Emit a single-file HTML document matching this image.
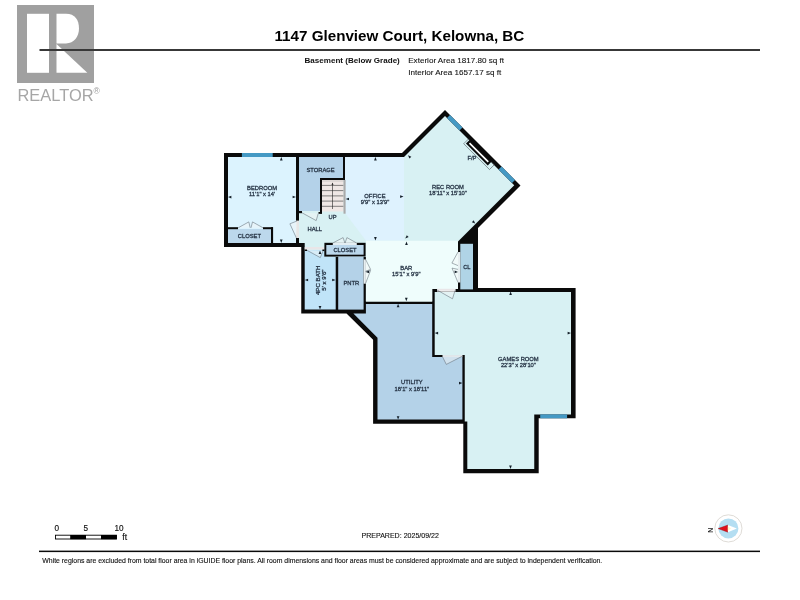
<!DOCTYPE html>
<html><head><meta charset="utf-8">
<style>
html,body{margin:0;padding:0;background:#fff;width:800px;height:600px;overflow:hidden}
svg{display:block;will-change:transform}
text{font-family:"Liberation Sans",sans-serif}
</style></head><body>
<svg width="800" height="600" viewBox="0 0 800 600">
<defs>
<path id="ar" d="M-1.35 3.4 L1.35 3.4 L0 0 Z" fill="#15202a"/>
</defs>
<!-- REALTOR logo -->
<g id="logo">
<rect x="17" y="5" width="77" height="78" fill="#a0a0a0"/>
<rect x="27" y="13.8" width="22" height="59" fill="#fff"/>
<path d="M56.5 13.8 H66 C75 13.8 79 20 79 28.5 C79 37 74 43 66 43.5 H56.5 Z" fill="#fff"/>
<path d="M56.5 44 L87.3 72.8 H56.5 Z" fill="#fff"/>
<text x="17.5" y="101" font-size="16" fill="#a6a6a6" textLength="76" lengthAdjust="spacingAndGlyphs">REALTOR</text>
<text x="93.6" y="94" font-size="8.5" fill="#9a9a9a">®</text>
</g>
<!-- header -->
<text x="399.4" y="41.4" font-size="15.2" font-weight="bold" text-anchor="middle" fill="#000">1147 Glenview Court, Kelowna, BC</text>
<rect x="39.5" y="49" width="720.5" height="2" fill="#383838"/>
<text x="399.8" y="62.9" font-size="8.05" font-weight="bold" text-anchor="end" fill="#111">Basement (Below Grade)</text>
<text x="408.2" y="62.9" font-size="8.1" fill="#111" stroke="#111" stroke-width="0.1">Exterior Area 1817.80 sq ft</text>
<text x="408.2" y="74.6" font-size="8.1" fill="#111" stroke="#111" stroke-width="0.1">Interior Area 1657.17 sq ft</text>

<!-- floor plan -->
<g id="plan">
<!-- black footprint -->
<path d="M224 153 H402 L445 110 L520.5 185.5 L478 228 V288 H575.6 V418.3 H538.7 V473.3 H463.3 V423.7 H373.1 V339.8 L346.5 313.6 H301.25 V247 H224 Z" fill="#0a0a0a"/>
<!-- bedroom -->
<rect x="228" y="157" width="68" height="86" fill="#dcf3fe"/>
<!-- storage -->
<path d="M299 157 H343 V178 H320 V211 H299 Z" fill="#b4d2e9"/>
<!-- open area base (rec room colour) -->
<path d="M345 157 H404 L445 116 L514.25 185.25 L458 241.5 V289 H432.2 V301.5 H365.9 V257 H324.4 V250 H304.7 V243 H299 V211 H320 V213.5 H322 V180 H345 Z" fill="#d8f1f3"/>
<!-- office overlay -->
<path d="M345 157 H404 V240.7 H366 L345 213 Z" fill="#def2fe"/>
<!-- bar overlay -->
<path d="M366 240.7 H458 V289 H432.2 V301.5 H365.9 Z" fill="#effdfc"/>
<!-- stairs -->
<rect x="322" y="180" width="21.5" height="31.5" fill="#efe7e5"/>
<g stroke="#5a5a5a" stroke-width="0.75"><line x1="322" y1="185.4" x2="343.5" y2="185.4"/><line x1="322" y1="190.6" x2="343.5" y2="190.6"/><line x1="322" y1="195.9" x2="343.5" y2="195.9"/><line x1="322" y1="201.1" x2="343.5" y2="201.1"/><line x1="322" y1="206.3" x2="343.5" y2="206.3"/><line x1="322" y1="181" x2="343.5" y2="181" stroke="#aaa" stroke-width="0.5"/></g>
<line x1="332.5" y1="183" x2="332.5" y2="209" stroke="#222" stroke-width="0.6"/>
<path d="M331.5 185 L332.5 182.5 L333.5 185 Z" fill="#333"/>
<rect x="343.5" y="180" width="2.1" height="33.7" fill="#aaa"/>
<rect x="299" y="211" width="3" height="2.2" fill="#0a0a0a"/><rect x="318.5" y="212" width="3.5" height="1.8" fill="#0a0a0a"/>
<!-- bath -->
<path d="M304.7 250 H324.4 V256.6 H335.7 V309.6 H304.7 Z" fill="#c0e4f8"/>
<rect x="304.7" y="249" width="2.3" height="2" fill="#0a0a0a"/>
<rect x="322.4" y="249" width="2" height="2" fill="#0a0a0a"/>
<rect x="304.7" y="247" width="19.7" height="2.5" fill="#e9e6e8"/>
<!-- hall closet -->
<rect x="324.4" y="242.8" width="41.2" height="13.8" fill="#0a0a0a"/>
<rect x="326.3" y="245" width="37.3" height="9.7" fill="#bcd8ec"/>
<rect x="332.8" y="242.8" width="24" height="2.2" fill="#e4eef2"/>
<!-- pantry -->
<rect x="338.2" y="256.6" width="25.4" height="53" fill="#b4d2e8"/>
<rect x="363.6" y="259.4" width="2.3" height="24.3" fill="#e6eef0"/>
<!-- CL -->
<rect x="460.3" y="243.8" width="12.7" height="45.6" fill="#b0d4e6"/>
<rect x="458" y="252" width="2.3" height="30.5" fill="#e6eef0"/>
<!-- games room -->
<path d="M434.7 291.9 H571 V414.4 H534.25 V469 H467.3 V421.5 H464.75 V355 H434.7 Z" fill="#d8f1f3"/>
<rect x="437" y="288.8" width="18.6" height="2.8" fill="#e9e6e8"/>
<!-- utility -->
<path d="M365.9 304.1 H432.2 V357 H462.4 V419.6 H377.5 V337.7 L353.4 313.6 H365.9 Z" fill="#b4d2e8"/>
<rect x="442.5" y="355" width="20" height="2" fill="#dfe6ea"/>
<!-- bedroom closet -->
<rect x="228" y="229" width="43" height="14" fill="#bcd8ec"/>
<rect x="228" y="227.2" width="10" height="2" fill="#0a0a0a"/>
<rect x="263" y="227.2" width="10" height="2" fill="#0a0a0a"/>
<rect x="271" y="227.2" width="2.1" height="16" fill="#0a0a0a"/>
<!-- bedroom-hall door opening -->
<rect x="296" y="220.6" width="3" height="17.4" fill="#e6e6e6"/>
<!-- windows -->
<rect x="241.9" y="153" width="30.8" height="4" fill="#4499c4"/>
<rect x="540.2" y="414.4" width="26.9" height="3.9" fill="#4499c4"/>
<path d="M450 115 L462.5 127.5 L459.5 130.5 L447 118 Z" fill="#4499c4"/>
<path d="M501.5 166.5 L515 180 L512 183 L498.5 169.5 Z" fill="#4499c4"/>
<!-- fireplace -->
<g transform="translate(469.5 140.5) rotate(45)">
<rect x="-1.8" y="-0.5" width="36.5" height="6.9" fill="none" stroke="#3a3f44" stroke-width="0.5"/>
<rect x="-0.3" y="-1.5" width="30.8" height="6.2" fill="#0a0a0a"/>
<rect x="1.8" y="1.0" width="26.6" height="1.7" fill="#fff"/>
</g>
<!-- door leaves -->
<g fill="#f4f6f6" fill-opacity="0.45" stroke="#56606a" stroke-width="0.5">
<path d="M297 221 L289.9 223.8 L296.3 237.8"/>
<path d="M302 212.8 L316.2 220.6 L318.2 213.6"/>
<path d="M307 250.3 L320.3 257.6 L323 251"/>
<path d="M333.2 242.8 L343.1 237.6 L344.9 243 M356.3 242.8 L346.9 237.6 L345.1 243"/>
<path d="M238.2 227.8 L248.8 221.9 L250.2 227.8 M263 227.8 L252.5 221.9 L251 227.8"/>
<path d="M365.6 259.4 L370.6 269.4 L365.6 271.2 M365.6 283.4 L370.6 270.4 L365.6 271.6"/>
<path d="M458 252 L451.9 263.1 L458 265.6 M458 282.5 L452 268.1 L458 269.4"/>
<path d="M437 290 L452.5 298.8 L455 290.5"/>
<path d="M442.6 357 L446.3 364.4 L462.4 356.2"/>
</g>
<use href="#ar" transform="translate(281.3 157) rotate(0)"/>
<use href="#ar" transform="translate(228 197.1) rotate(-90)"/>
<use href="#ar" transform="translate(296 197) rotate(90)"/>
<use href="#ar" transform="translate(281.25 243) rotate(180)"/>
<use href="#ar" transform="translate(375.4 157) rotate(0)"/>
<use href="#ar" transform="translate(345.6 199) rotate(-90)"/>
<use href="#ar" transform="translate(403.5 196.6) rotate(90)"/>
<use href="#ar" transform="translate(375.4 240.5) rotate(180)"/>
<use href="#ar" transform="translate(408 155.2) rotate(-45)"/>
<use href="#ar" transform="translate(475.2 223.6) rotate(135)"/>
<use href="#ar" transform="translate(405.3 238.5) rotate(-135)"/>
<use href="#ar" transform="translate(406.5 241.5) rotate(0)"/>
<use href="#ar" transform="translate(406.3 301.2) rotate(180)"/>
<use href="#ar" transform="translate(365.8 271.9) rotate(-90)"/>
<use href="#ar" transform="translate(458 271.9) rotate(90)"/>
<use href="#ar" transform="translate(304.7 280) rotate(-90)"/>
<use href="#ar" transform="translate(335.6 280) rotate(90)"/>
<use href="#ar" transform="translate(320 309.4) rotate(180)"/>
<use href="#ar" transform="translate(320 250.5) rotate(0)"/>
<use href="#ar" transform="translate(398.1 303.8) rotate(0)"/>
<use href="#ar" transform="translate(462.4 383.1) rotate(90)"/>
<use href="#ar" transform="translate(398.1 419.6) rotate(180)"/>
<use href="#ar" transform="translate(510.6 291.6) rotate(0)"/>
<use href="#ar" transform="translate(571 333.1) rotate(90)"/>
<use href="#ar" transform="translate(510.5 469) rotate(180)"/>
<use href="#ar" transform="translate(434.7 333.1) rotate(-90)"/>
</g>

<!-- labels -->
<g font-size="5.8" fill="#263445" stroke="#263445" stroke-width="0.28" text-anchor="middle">
<text x="262.1" y="189.9">BEDROOM</text>
<text x="262.1" y="195.8">11'1" x 14'</text>
<text x="249.4" y="237.8">CLOSET</text>
<text x="320.6" y="171.5">STORAGE</text>
<text x="375" y="198.1">OFFICE</text>
<text x="375" y="204.2">9'9" x 13'9"</text>
<text x="332.5" y="219.4">UP</text>
<text x="314.8" y="231.3">HALL</text>
<text x="448" y="188.8">REC ROOM</text>
<text x="448" y="194.8">18'11" x 15'10"</text>
<text x="471.9" y="159.6">F/P</text>
<text x="345" y="251.5">CLOSET</text>
<text x="351.3" y="285">PNTR</text>
<text x="466.9" y="268.8">CL</text>
<text x="406.25" y="269.7">BAR</text>
<text x="406.25" y="275.6">15'1" x 9'9"</text>
<text x="411.9" y="384.4">UTILITY</text>
<text x="411.9" y="390.5">18'1" x 18'11"</text>
<text x="518.4" y="360.9">GAMES ROOM</text>
<text x="518.4" y="366.9">22'3" x 28'10"</text>
<text transform="translate(320.2 280.3) rotate(-90)" font-size="6.15">4PC BATH</text>
<text transform="translate(326 280.1) rotate(-90)" font-size="6.15">5' x 9'6"</text>
</g>

<!-- footer -->
<g id="scalebar">
<rect x="55.5" y="535.2" width="61" height="3.8" fill="#fff" stroke="#000" stroke-width="0.9"/>
<rect x="70.2" y="535" width="15.8" height="4.2" fill="#000"/>
<rect x="101" y="535" width="15.7" height="4.2" fill="#000"/>
<g fill="#111" stroke="#111" stroke-width="0.15" font-size="8.2">
<text x="56.8" y="531.3" text-anchor="middle">0</text>
<text x="85.9" y="531.3" text-anchor="middle">5</text>
<text x="119.1" y="531.3" text-anchor="middle">10</text>
<text x="122.3" y="539.8" font-size="8.6">ft</text>
</g>
</g>
<text x="400.2" y="537.7" font-size="7.05" text-anchor="middle" fill="#111" stroke="#111" stroke-width="0.12">PREPARED: 2025/09/22</text>
<rect x="39" y="550.6" width="721" height="1.5" fill="#0a0a0a"/>
<text x="42.3" y="562.9" font-size="6.9" fill="#111" stroke="#111" stroke-width="0.12">White regions are excluded from total floor area in iGUIDE floor plans. All room dimensions and floor areas must be considered approximate and are subject to independent verification.</text>
<!-- compass -->
<g id="compass">
<circle cx="728.4" cy="528.4" r="13.6" fill="#fff" stroke="#d6d2cc" stroke-width="0.8"/>
<circle cx="728.4" cy="528.4" r="10" fill="#b4def2"/>
<path d="M718.1 528.6 L727.9 525 L727.9 532.2 Z" fill="#e0101c" stroke="#8a1010" stroke-width="0.4"/>
<path d="M736.9 528.6 L727.9 525 L727.9 532.2 Z" fill="#fff"/>
<path d="M727.9 526.5 L731 528.6 L727.9 530.7 Z" fill="#fff6c8"/>
<text transform="translate(713.1 530.1) rotate(-90)" font-size="7" font-weight="bold" text-anchor="middle" fill="#222">N</text>
</g>
</svg>
</body></html>
